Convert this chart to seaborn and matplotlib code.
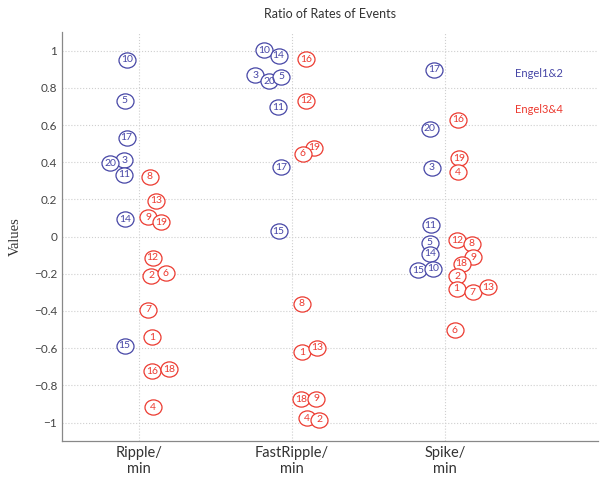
import numpy as np
import pandas as pd
import matplotlib
matplotlib.use('Agg')
import matplotlib.pyplot as plt
from matplotlib.path import Path
import seaborn as sns

# categories and y tick labels
categories = ['Ripple/\nmin', 'FastRipple/\nmin', 'Spike/\nmin']
ytick_vals = [1, 0.8, 0.6, 0.4, 0.2, 0, -0.2, -0.4, -0.6, -0.8, -1]
ytick_labels = ['1', '0.8', '0.6', '0.4', '0.2', '0', '\u22120.2', '\u22120.4', '\u22120.6', '\u22120.8', '\u22121']

# Engel1&2 (blue)
rip_blue_id = [10, 5, 17, 3, 20, 11, 14, 15]
rip_blue_val = [0.951, 0.730, 0.531, 0.412, 0.396, 0.332, 0.094, -0.587]
rip_blue_dx = [-0.074, -0.092, -0.080, -0.096, -0.185, -0.096, -0.092, -0.093]

fr_blue_id = [10, 14, 3, 20, 5, 11, 17, 15]
fr_blue_val = [1.002, 0.973, 0.867, 0.835, 0.861, 0.696, 0.373, 0.030]
fr_blue_dx = [-0.181, -0.087, -0.240, -0.148, -0.068, -0.090, -0.072, -0.087]

sp_blue_id = [17, 20, 3, 11, 5, 14, 15, 10]
sp_blue_val = [0.898, 0.580, 0.371, 0.062, -0.033, -0.091, -0.181, -0.172]
sp_blue_dx = [-0.070, -0.098, -0.087, -0.093, -0.098, -0.098, -0.174, -0.076]

# Engel3&4 (red)
rip_red_id = [8, 13, 9, 19, 12, 2, 6, 7, 1, 16, 18, 4]
rip_red_val = [0.322, 0.193, 0.104, 0.077, -0.114, -0.211, -0.198, -0.392, -0.540, -0.725, -0.713, -0.918]
rip_red_dx = [0.072, 0.111, 0.061, 0.144, 0.090, 0.083, 0.178, 0.063, 0.087, 0.085, 0.196, 0.090]

fr_red_id = [16, 12, 19, 6, 8, 1, 13, 18, 9, 4, 2]
fr_red_val = [0.955, 0.730, 0.479, 0.445, -0.360, -0.621, -0.599, -0.876, -0.872, -0.977, -0.984]
fr_red_dx = [0.092, 0.092, 0.146, 0.070, 0.065, 0.065, 0.163, 0.063, 0.161, 0.098, 0.179]

sp_red_id = [16, 19, 4, 12, 8, 9, 18, 2, 1, 7, 13, 6]
sp_red_val = [0.628, 0.421, 0.346, -0.019, -0.037, -0.112, -0.145, -0.213, -0.279, -0.298, -0.271, -0.504]
sp_red_dx = [0.087, 0.093, 0.087, 0.080, 0.175, 0.185, 0.109, 0.080, 0.076, 0.181, 0.283, 0.065]

BLUE = '#4646a6'
RED = '#ec3a30'

rows = []
def add(group, cat, ids, vals, dxs):
    for i, v, d in zip(ids, vals, dxs):
        rows.append({'group': group, 'x': cat + 1 + d, 'value': v, 'id': i})

add('Engel1&2', 0, rip_blue_id, rip_blue_val, rip_blue_dx)
add('Engel1&2', 1, fr_blue_id, fr_blue_val, fr_blue_dx)
add('Engel1&2', 2, sp_blue_id, sp_blue_val, sp_blue_dx)
add('Engel3&4', 0, rip_red_id, rip_red_val, rip_red_dx)
add('Engel3&4', 1, fr_red_id, fr_red_val, fr_red_dx)
add('Engel3&4', 2, sp_red_id, sp_red_val, sp_red_dx)
df = pd.DataFrame(rows)

sns.set_style('white')
plt.rcParams['font.family'] = ['Lato', 'DejaVu Sans']

# slightly elliptical marker
circ = Path.unit_circle()
ell = Path(circ.vertices * np.array([1.12, 1.0]), circ.codes)

fig = plt.figure(figsize=(6.04, 4.8), dpi=100)
ax = fig.add_axes([0.103, 0.081, 0.887, 0.852])

palette = {'Engel1&2': BLUE, 'Engel3&4': RED}
for g, sub in df.groupby('group'):
    sns.scatterplot(data=sub, x='x', y='value', ax=ax, marker=ell, s=150,
                    facecolor='white', edgecolor=palette[g], linewidth=0.9,
                    legend=False, zorder=3)
    for _, r in sub.iterrows():
        ax.text(r['x'], r['value'], str(r['id']), color=palette[g], fontsize=7.5,
                ha='center', va='center', zorder=4)

ax.set_xlim(0.5, 4.0)
ax.set_ylim(-1.1, 1.1)
ax.set_xticks([1, 2, 3])
ax.set_xticklabels(categories, fontsize=10.5, color='#333333')
ax.set_yticks(ytick_vals)
ax.set_yticklabels(ytick_labels, fontsize=8.5, color='#444444')
ax.tick_params(direction='in', length=3, color='#888888')
ax.grid(True, linestyle=':', color='#cfcfcf', linewidth=0.8)
ax.set_axisbelow(True)
for s in ['top', 'right']:
    ax.spines[s].set_visible(False)
for s in ['left', 'bottom']:
    ax.spines[s].set_color('#888888')
    ax.spines[s].set_linewidth(0.9)
ax.set_xlabel('')
ax.set_ylabel('Values', family='Liberation Serif', fontsize=10.5, color='#333333', labelpad=9)
ax.set_title('Ratio of Rates of Events', fontsize=9, color='#333333', pad=10)

ax.text(0.845, 0.898, 'Engel1&2', transform=ax.transAxes, color=BLUE, fontsize=8,
        ha='left', va='center')
ax.text(0.845, 0.810, 'Engel3&4', transform=ax.transAxes, color=RED, fontsize=8,
        ha='left', va='center')

fig.savefig('out.png', dpi=100)
